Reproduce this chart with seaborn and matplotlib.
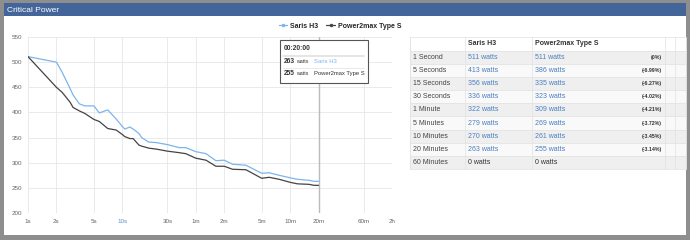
import numpy as np
import pandas as pd
import seaborn as sns
from matplotlib import pyplot as plt
from matplotlib.patches import Rectangle

## data
secs = [1, 2, 2.3, 2.8, 3, 3.5, 4, 5, 5.7, 7, 8.6, 10, 10.6, 12, 13, 15, 16, 19, 23,
        30, 40, 47, 60, 77, 98, 120, 147, 204, 300, 360, 459, 600, 716, 950, 1075, 1200]
saris = [511, 500, 480, 447, 435, 417, 413, 413, 399, 405, 387, 372, 367, 371, 367, 358, 350, 341, 340,
         336, 330, 330, 322, 318, 304, 305, 297, 295, 279, 280, 275, 270, 267, 265, 263, 263]
p2m = [511, 450, 440, 420, 410, 403, 398, 386, 382, 368, 365, 356, 352, 348, 348, 335, 333, 329, 327,
       323, 320, 318, 309, 305, 293, 293, 287, 286, 269, 271, 267, 261, 258, 257, 255, 255]
series_names = ['Saris H3', 'Power2max Type S']

tick_secs = [1, 2, 5, 10, 30, 60, 120, 300, 600, 1200, 3600, 7200]
tick_labels = ['1s', '2s', '5s', '10s', '30s', '1m', '2m', '5m', '10m', '20m', '60m', '2h']

row_labels = ['1 Second', '5 Seconds', '15 Seconds', '30 Seconds', '1 Minute', '5 Minutes',
              '10 Minutes', '20 Minutes', '60 Minutes']
saris_tab = [511, 413, 356, 336, 322, 279, 270, 263, 0]
p2m_tab = [511, 386, 335, 323, 309, 269, 261, 255, 0]
pct_tab = ['(0%)', '(-6.99%)', '(-6.27%)', '(-4.02%)', '(-4.21%)', '(-3.72%)', '(-3.45%)', '(-3.14%)', '']

df = pd.DataFrame({'secs': secs * 2,
                   'watts': saris + p2m,
                   'device': [series_names[0]] * len(secs) + [series_names[1]] * len(secs)})

sns.set_style('white')
plt.rcParams['font.family'] = ['Liberation Sans', 'DejaVu Sans']

W, H = 690, 240
fig = plt.figure(figsize=(W / 100, H / 100), dpi=100)
fig.patch.set_facecolor('#8e8e8e')

def fx(px):
    return px / W

def fy(py):
    return 1 - py / H

# white panel and title bar
fig.patches.append(Rectangle((fx(4), fy(235)), fx(686) - fx(4), fy(4) - fy(235),
                             transform=fig.transFigure, facecolor='white', edgecolor='none', zorder=-10))
fig.patches.append(Rectangle((fx(4), fy(16)), fx(686) - fx(4), fy(3) - fy(16),
                             transform=fig.transFigure, facecolor='#44659a', edgecolor='none', zorder=-9))
fig.text(fx(7), fy(10), 'Critical Power', color='white', fontsize=6, va='center', ha='left')

## chart
ax = fig.add_axes([fx(28), fy(213), fx(392) - fx(28), fy(37) - fy(213)])
ax.set_facecolor('none')
ax.set_zorder(1)
sns.lineplot(data=df, x='secs', y='watts', hue='device', ax=ax,
             palette=['#7cb5ec', '#434348'], linewidth=0.9, legend=False)
ax.set_xscale('log')
ax.set_xlim(1, 7200)
ax.set_ylim(200, 550)
ax.set_xticks(tick_secs)
ax.set_xticklabels(tick_labels)
ax.minorticks_off()
ax.set_yticks(np.arange(200, 551, 50))
ax.grid(True, color='#e6e6e6', linewidth=0.6)
for s in ax.spines.values():
    s.set_visible(False)
ax.tick_params(axis='both', length=0, labelsize=4.5, colors='#666666', pad=4)
ax.get_xticklabels()[3].set_color('#5b8fc7')
ax.set_xlabel('')
ax.set_ylabel('')
ax.axvline(1200, color='#bbbbbb', linewidth=1.0, zorder=1)

# legend
h1, = ax.plot([], [], color='#7cb5ec', marker='.', markersize=3, linewidth=0.9)
h2, = ax.plot([], [], color='#434348', marker='.', markersize=3, linewidth=0.9)
fig.legend([h1, h2], series_names, loc='center', bbox_to_anchor=(fx(340), fy(26)), ncol=2,
           frameon=False, handlelength=1.2, handletextpad=0.4, columnspacing=1.2,
           prop={'weight': 'bold', 'size': 5})

# tooltip
fig.patches.append(Rectangle((fx(280), fy(83)), fx(368) - fx(280), fy(40) - fy(83),
                             transform=fig.transFigure, facecolor='white', edgecolor='#555555',
                             linewidth=0.8, zorder=5))
fig.text(fx(284), fy(49), '00:20:00', fontsize=4.8, weight='bold', color='#333333', zorder=6, va='center')
fig.add_artist(plt.Line2D([fx(283), fx(364)], [fy(55.5), fy(55.5)], color='#e0e0e0',
                          linewidth=1.2, transform=fig.transFigure, zorder=6))
fig.add_artist(plt.Line2D([fx(283), fx(364)], [fy(67.5), fy(67.5)], color='#e0e0e0',
                          linewidth=0.5, transform=fig.transFigure, zorder=6))
for py, val, name, col in [(61.5, saris_tab[7], series_names[0], '#7cb5ec'),
                           (73.5, p2m_tab[7], series_names[1], '#333333')]:
    fig.text(fx(284), fy(py), str(val), fontsize=4.8, weight='bold', color='#333333', zorder=6, va='center')
    fig.text(fx(296), fy(py), 'watts', fontsize=3.8, color='#333333', zorder=6, va='center')
    fig.text(fx(314), fy(py), name, fontsize=4.2, color=col, zorder=6, va='center')

## table
col_x = [410, 465, 532, 665, 675, 686]
top = 37.3
row_h = (169.3 - top) / 10
for i in range(10):
    y0 = top + i * row_h
    if i == 0:
        fc = 'white'
    else:
        fc = '#efefef' if i % 2 == 1 else '#f9f9f9'
    fig.patches.append(Rectangle((fx(410), fy(y0 + row_h)), fx(686) - fx(410), fy(y0) - fy(y0 + row_h),
                                 transform=fig.transFigure, facecolor=fc, edgecolor='#e2e2e2',
                                 linewidth=0.5, zorder=1))
for cx in col_x:
    fig.add_artist(plt.Line2D([fx(cx), fx(cx)], [fy(top), fy(169.3)], color='#e2e2e2',
                              linewidth=0.5, transform=fig.transFigure, zorder=2))
hy = top + row_h / 2
fig.text(fx(468), fy(hy), series_names[0], fontsize=5, weight='bold', color='#333333', va='center')
fig.text(fx(535), fy(hy), series_names[1], fontsize=5, weight='bold', color='#333333', va='center')
for i, lab in enumerate(row_labels):
    cy = top + (i + 1.5) * row_h
    fig.text(fx(413), fy(cy), lab, fontsize=5, color='#444444', va='center')
    c = '#4a7fbf' if saris_tab[i] > 0 else '#333333'
    fig.text(fx(468), fy(cy), '%d watts' % saris_tab[i], fontsize=5, color=c, va='center')
    fig.text(fx(535), fy(cy), '%d watts' % p2m_tab[i], fontsize=5, color=c, va='center')
    fig.text(fx(662), fy(cy), pct_tab[i], fontsize=3.8, weight='bold', color='#333333', va='center', ha='right')

plt.savefig('out.png', dpi=100, facecolor=fig.get_facecolor())
